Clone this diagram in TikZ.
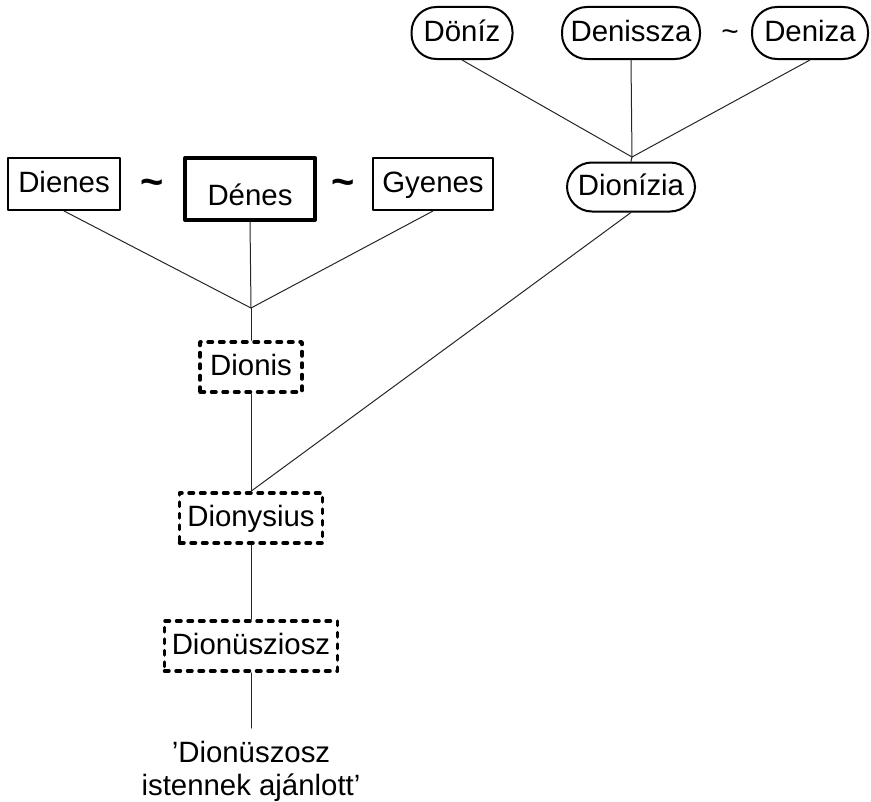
\documentclass[tikz,border=0pt]{standalone}
\usepackage{fontspec}
\setmainfont{Liberation Sans}
\usetikzlibrary{positioning}

\begin{document}
\begin{tikzpicture}[line cap=round, line join=round, x=1bp, y=-1bp,
    every node/.style={font=\fontsize{29.5}{33}\selectfont, inner sep=0pt},
    boxtext/.style={text height=23bp, text depth=6bp},
    namebox/.style={draw, boxtext, line width=2bp, minimum height=52bp},
    mainbox/.style={draw, line width=4bp, minimum height=62bp, text height=39bp, text depth=7bp},
    rootbox/.style={draw, boxtext, line width=3.5bp, dash pattern=on 4.5bp off 7bp, minimum height=50bp},
    pillbox/.style={draw, boxtext, line width=2bp, rounded corners=25bp, minimum height=52bp},
    bigtilde/.style={anchor=base, font=\fontsize{40}{40}\selectfont\bfseries},
    smalltilde/.style={anchor=base, font=\fontsize{30}{33}\selectfont},
    link/.style={line width=1bp, black!85}]
    \useasboundingbox (0,0) rectangle (871,802);

    % male forms
    \node[namebox, minimum width=112bp] (dienes) at (64,184) {Dienes};
    \node[mainbox, minimum width=130bp] (denes) at (250,189) {Dénes};
    \node[namebox, minimum width=120bp] (gyenes) at (433,184) {Gyenes};
    \node[bigtilde] (tildeA) at (152,195) {\textasciitilde};
    \node[bigtilde] (tildeB) at (343,195) {\textasciitilde};

    % female forms
    \node[pillbox, minimum width=101bp] (doniz) at (462,33) {Döníz};
    \node[pillbox, minimum width=138bp] (denissza) at (631,33) {Denissza};
    \node[smalltilde] (tildeC) at (730,42) {\textasciitilde};
    \node[pillbox, minimum width=116bp] (deniza) at (810,33) {Deniza};
    \node[pillbox, minimum width=128bp, minimum height=49bp] (dionizia) at (631,187) {Dionízia};

    % origin
    \node[rootbox, minimum width=102bp] (dionis) at (251,367) {Dionis};
    \node[rootbox, minimum width=143bp] (dionysius) at (251,518) {Dionysius};
    \node[rootbox, minimum width=173bp] (dionusziosz) at (251,646) {Dionüsziosz};
    \node[align=center] (meaning) at (251,771) {'Dionüszosz\\istennek ajánlott'};

    \coordinate (leftjoin) at (251,308);
    \coordinate (rightjoin) at (632,157);
    \coordinate (rootend) at (251,728);

    \draw[link] (dienes.south) -- (leftjoin);
    \draw[link] (denes.south) -- (leftjoin);
    \draw[link] (gyenes.south) -- (leftjoin);
    \draw[link] (leftjoin) -- (dionis.north);

    \draw[link] (doniz.south) -- (rightjoin);
    \draw[link] (denissza.south) -- (rightjoin);
    \draw[link] (deniza.south) -- (rightjoin);
    \draw[link] (rightjoin) -- (dionizia.north);

    \draw[link] (dionis.south) -- (dionysius.north);
    \draw[link] (dionizia.south) -- (dionysius.north);
    \draw[link] (dionysius.south) -- (dionusziosz.north);
    \draw[link] (dionusziosz.south) -- (rootend);
\end{tikzpicture}
\end{document}
